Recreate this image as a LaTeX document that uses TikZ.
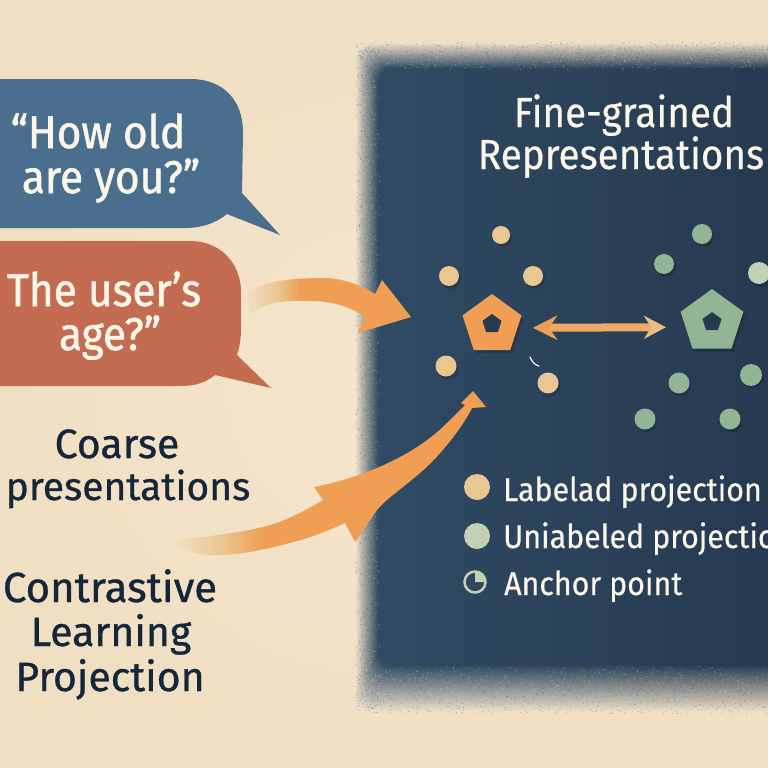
\documentclass[tikz,border=0pt]{standalone}
\usepackage{fontspec}
\setmainfont{Fira Sans}
\newfontfamily\bubblefont{Fira Sans}[FakeStretch=0.92,FakeBold=1.2]
\newfontfamily\inkfont{Fira Sans}[FakeBold=0.8]
\newfontfamily\legendfont{Fira Sans}[FakeStretch=0.92,FakeBold=0.4]
\usetikzlibrary{arrows.meta,shapes.geometric,shadows}

\definecolor{paperc}{HTML}{F4E5CD}
\definecolor{paperd}{HTML}{F1DFC2}
\definecolor{panelc}{HTML}{2F4A63}
\definecolor{paneld}{HTML}{25394F}
\definecolor{bluec}{HTML}{4A6E8E}
\definecolor{redc}{HTML}{C46C52}
\definecolor{creamc}{HTML}{FBF6E8}
\definecolor{inkc}{HTML}{14273A}
\definecolor{orangec}{HTML}{EF9E53}
\definecolor{tanc}{HTML}{E9C793}
\definecolor{greenc}{HTML}{92B595}
\definecolor{palec}{HTML}{C3D0B4}

\newcommand{\fsz}[1]{\fontsize{#1}{#1}\selectfont}
\newcommand{\speck}[3]{\foreach \k in {1,...,#1}{%
  \pgfmathsetmacro{\s}{rnd}\pgfmathsetmacro{\b}{rnd}%
  \fill[#3, fill opacity=.4] #2 circle (.5pt);}}

\pgfdeclarehorizontalshading{tailfadea}{100bp}{color(0bp)=(paperd); color(25bp)=(paperd); color(34bp)=(tanc); color(41bp)=(orangec); color(100bp)=(orangec)}
\pgfdeclarehorizontalshading{tailfadeb}{100bp}{color(0bp)=(paperd); color(26bp)=(paperd); color(33bp)=(tanc); color(40bp)=(orangec); color(100bp)=(orangec)}

\tikzset{
  line/.style={anchor=base, inner sep=0pt},
  bubbleline/.style={line, text=creamc, font=\bubblefont\fsz{46}},
  inkline/.style={line, text=inkc, font=\inkfont\fsz{41}},
  whiteline/.style={line, text=creamc, font=\legendfont\fsz{42}},
  legendline/.style={line, anchor=base west, text=creamc, font=\legendfont\fsz{33}},
  dotshadow/.style={general shadow={shadow xshift=2pt, shadow yshift=-3pt, fill=black, opacity=.16}},
  dot/.style={circle, inner sep=0pt, outer sep=0pt, minimum size=20pt, dotshadow},
  labeled/.style={dot, fill=tanc},
  unlabeled/.style={dot, fill=greenc},
  pent/.style={regular polygon, regular polygon sides=5, inner sep=0pt, outer sep=0pt, dotshadow},
  hole/.style={regular polygon, regular polygon sides=5, inner sep=0pt, outer sep=0pt, minimum size=20pt, fill=paneld},
}

\begin{document}
\begin{tikzpicture}[x=1pt,y=-1pt]
  \useasboundingbox (0,0) rectangle (768,768);
  \clip (0,0) rectangle (768,768);
  \shade[inner color=paperc, outer color=paperd] (0,0) rectangle (768,768);

  % panel with soft edge
  \foreach \i in {1,...,24} {
    \pgfmathsetmacro{\p}{100*\i/24}
    \shade[left color=panelc!\p!paperc, right color=paneld!\p!paperc, rounded corners=14pt]
      (355+.95*\i,42+1.1*\i) rectangle (800,714-2*\i);
  }
  \pgfmathsetseed{7}
  \speck{900}{(356+24*\s,43+670*\b)}{paperc}
  \speck{900}{(356+24*\s,43+670*\b)}{panelc}
  \speck{700}{(356+412*\b,42+28*\s)}{paperc}
  \speck{700}{(356+412*\b,42+28*\s)}{panelc}
  \speck{900}{(356+412*\b,666+48*\s)}{paperc}
  \speck{900}{(356+412*\b,666+48*\s)}{panelc}

  % speech bubbles
  \fill[bluec] (-10,79) -- (190,79) .. controls (225,79) and (243,102) .. (243,132)
    -- (242,193) -- (280,235) -- (227,214) .. controls (215,224) and (200,228) .. (185,228) -- (-10,228) -- cycle;
  \fill[redc] (-10,241) -- (190,241) .. controls (222,241) and (241,265) .. (241,292)
    -- (241,330) .. controls (241,340) and (239,348) .. (237,355)
    -- (271,388) -- (215,375) .. controls (205,383) and (195,386) .. (180,386) -- (-10,386) -- cycle;

  \node[bubbleline] (ask1) at (98,148) {“How old};
  \node[bubbleline] (ask2) at (111,193) {are you?”};
  \node[bubbleline] (age1) at (104,306) {The user’s};
  \node[bubbleline] (age2) at (110,350) {age?”};

  \node[inkline] (coarse1) at (117,458) {Coarse};
  \node[inkline, font=\inkfont\fsz{39}] (coarse2) at (128,500) {presentations};
  \node[inkline, font=\inkfont\fsz{42}] (contrast1) at (110,602) {Contrastive};
  \node[inkline] (contrast2) at (111,646) {Learning};
  \node[inkline] (contrast3) at (110,691) {Projection};

  \node[whiteline] (fine1) at (624,127) {Fine-grained};
  \node[whiteline] (fine2) at (621,169) {Representations};

  % curved arrows
  \coordinate (taila) at (248,293);
  \coordinate (tipa) at (411,317);
  \coordinate (tailb) at (170,540);
  \coordinate (tipb) at (473,391);
  \shade[shading=tailfadea] (taila) .. controls (262,281) and (290,278) .. (327,278)
    .. controls (345,279) and (362,286) .. (375,294) -- (382,280) -- (tipa) -- (358,333) -- (365,317)
    .. controls (350,306) and (330,301) .. (310,301) .. controls (285,300) and (265,302) .. (250,315) -- cycle;
  \shade[shading=tailfadeb] (tailb) .. controls (200,538) and (250,532) .. (277,523)
    .. controls (295,516) and (310,508) .. (323,500) -- (314,487)
    .. controls (340,482) and (360,475) .. (377,468) .. controls (400,458) and (425,445) .. (447,423)
    -- (465,405) -- (461,403) -- (tipb) -- (486,407) -- (472,408)
    .. controls (462,428) and (440,456) .. (420,473) .. controls (400,490) and (385,500) .. (377,510)
    -- (355,542) -- (345,523) .. controls (325,532) and (310,538) .. (293,542)
    .. controls (265,550) and (235,556) .. (210,555) .. controls (190,553) and (178,548) .. (tailb) -- cycle;

  % pentagons
  \node[pent, fill=orangec, minimum size=62pt] (penl) at (492,325) {};
  \node[hole] (holel) at (492,324) {};
  \node[pent, fill=greenc, minimum size=66pt] (penr) at (712,322) {};
  \node[hole] (holer) at (712,322) {};

  \draw[{Stealth[length=24pt,width=24pt,color=orangec]}-{Stealth[length=22pt,width=23pt,color=tanc!70!orangec]},
    line width=8pt, orangec!75!tanc, shorten <=41pt, shorten >=46pt]
    ([yshift=-3pt]penl.center) -- ([yshift=-5pt]penr.center);

  % projections
  \node[labeled, minimum size=18pt] (la) at (501,235) {};
  \node[labeled] (lb) at (449,276) {};
  \node[labeled] (lc) at (533,276) {};
  \node[labeled, minimum size=21pt] (ld) at (446,366) {};
  \node[labeled, minimum size=21pt] (le) at (548,383) {};
  \node[unlabeled] (ua) at (702,234) {};
  \node[unlabeled] (ub) at (664,264) {};
  \node[dot, fill=palec, minimum size=22pt] (uc) at (759,273) {};
  \node[unlabeled, minimum size=22pt] (ud) at (751,375) {};
  \node[unlabeled, minimum size=21pt] (ue) at (679,383) {};
  \node[unlabeled, minimum size=21pt] (uf) at (645,419) {};
  \node[unlabeled, minimum size=21pt] (ug) at (730,419) {};

  % stray mark
  \draw[creamc, line width=1.2pt, line cap=round] (530,357) .. controls (532,362) and (535,365) .. (539,366);

  % legend
  \node[circle, inner sep=0pt, minimum size=26pt, fill=tanc] (keya) at (477,487) {};
  \node[circle, inner sep=0pt, minimum size=26pt, fill=palec] (keyb) at (477,536) {};
  \node[circle, draw=palec, line width=2.5pt, inner sep=0pt, minimum size=21pt] (keyc) at (475,582) {};
  \fill[palec] (keyc.center) -- ++(0,-11) arc[start angle=-90, end angle=0, radius=11] -- cycle;

  \node[legendline] (texta) at (503,501) {Labelad projection};
  \node[legendline] (textb) at (503,548) {Uniabeled projection};
  \node[legendline] (textc) at (504,595) {Anchor point};
\end{tikzpicture}
\end{document}
